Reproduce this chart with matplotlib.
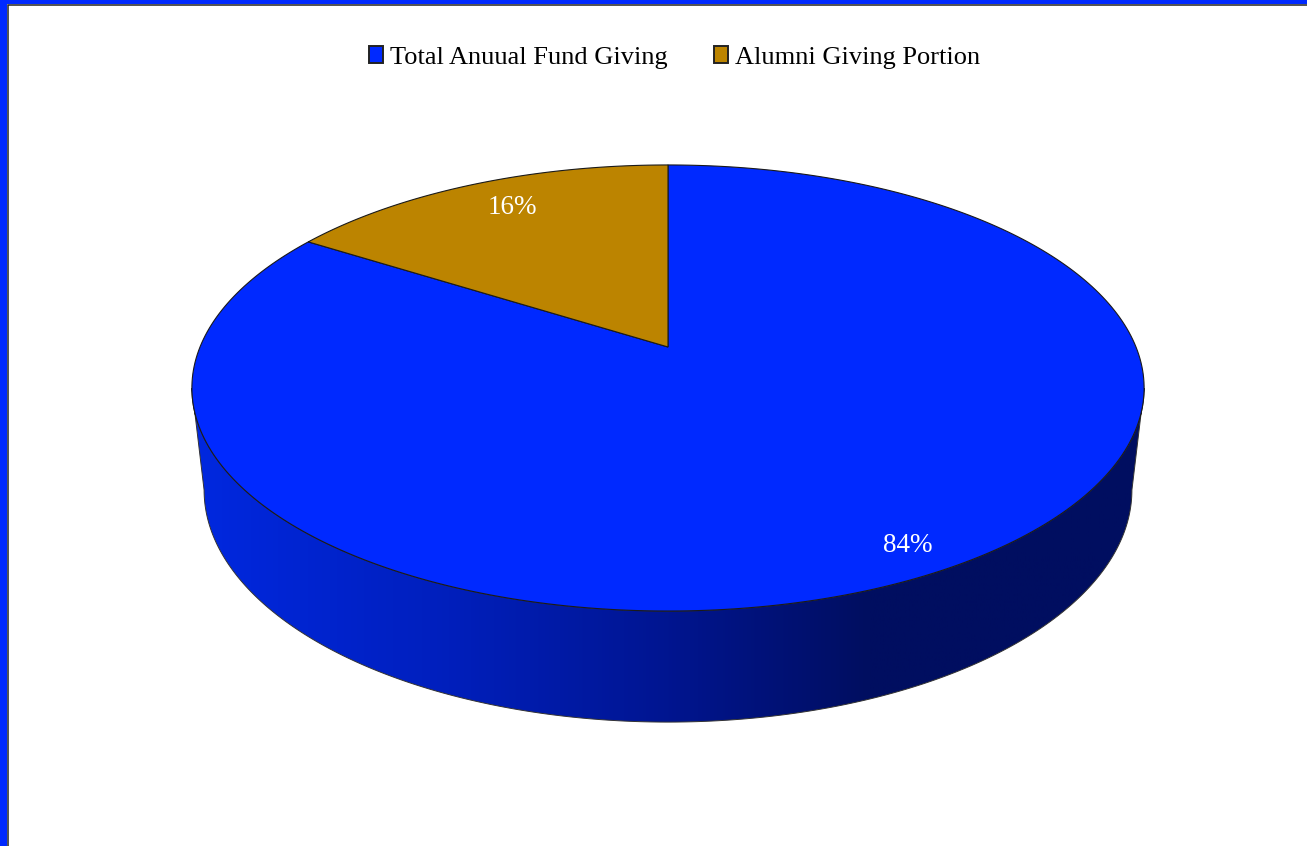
import numpy as np
import matplotlib
matplotlib.use("Agg")
import matplotlib.pyplot as plt
from matplotlib.patches import Patch, Polygon, Rectangle
from matplotlib.colors import LinearSegmentedColormap

labels = ["Total Anuual Fund Giving", "Alumni Giving Portion"]
shares = [84, 16]
pct_labels = ["84%", "16%"]
colors = ["#0029FF", "#BC8400"]

W, H = 1307, 846
CX = 668
K = 0.1838      # perspective of the tilted disc
serif = "Liberation Serif"


def project(t, a, b, y0):
    u, v = np.cos(t), np.sin(t)
    d = 1 + K * v
    return CX + a * u / d, y0 - b * v / d


def rim(t0, t1, a, b, y0, n=300):
    x, y = project(np.radians(np.linspace(t0, t1, n)), a, b, y0)
    return np.column_stack([x, y])


fig = plt.figure(figsize=(W / 100, H / 100), dpi=100, facecolor="white")
ax = fig.add_axes([0, 0, 1, 1])
ax.set_xlim(0, W)
ax.set_ylim(H, 0)
ax.axis("off")

# frame
ax.add_patch(Rectangle((0, 0), 7, H, fc="#0029FF", ec="none"))
ax.add_patch(Rectangle((0, 0), W, 4.5, fc="#0029FF", ec="none"))
ax.plot([8, 8, W], [H, 5.3, 5.3], color="#222222", lw=1.1, solid_joinstyle="miter")

top = (468, 215.5, 347)
low = (456, 224.2, 447.4)

# side wall runs between the widest points of both rims
wide = np.degrees(np.arcsin(K))
top_front = rim(180 + wide, 360 - wide, *top)
low_front = rim(360 - wide, 180 + wide, *low)
side_pts = np.vstack([top_front, low_front])
side = Polygon(side_pts, closed=True, fc="none", ec="none")
ax.add_patch(side)
cmap = LinearSegmentedColormap.from_list(
    "side", [(0, "#0028E0"), (0.27, "#001FBC"), (0.5, "#001590"), (0.71, "#000E60"), (1, "#000E60")])
grad = np.linspace(0, 1, 512).reshape(1, -1)
im = ax.imshow(grad, cmap=cmap, extent=[192, 1145, 740, 380], aspect="auto", zorder=1)
im.set_clip_path(side)
ax.set_xlim(0, W)
ax.set_ylim(H, 0)
ax.add_patch(Polygon(side_pts, closed=True, fc="none", ec="#333333", lw=0.7, zorder=2))

# top of the pie, clockwise from 12 o'clock
start = 90.0
apex = (CX, top[2])
for val, col in zip(shares, colors):
    sweep = val / sum(shares) * 360
    edge = rim(start, start - sweep, *top)
    pts = np.vstack([[apex], edge])
    ax.add_patch(Polygon(pts, closed=True, fc=col, ec="#1a1a1a", lw=0.8, zorder=3))
    start -= sweep

ax.text(908, 546, pct_labels[0], color="white", fontsize=19.5, family=serif,
        ha="center", va="center", zorder=4)
ax.text(512, 208, pct_labels[1], color="white", fontsize=19.5, family=serif,
        ha="center", va="center", zorder=4)

handles = [Patch(fc=c, ec="#222222", lw=1.4) for c in colors]
fig.legend(handles, labels, loc="center", bbox_to_anchor=(674.5 / W, 1 - 57.5 / H), ncol=2,
           frameon=False, prop={"family": serif, "size": 19},
           handlelength=0.55, handleheight=0.6, handletextpad=0.25, columnspacing=1.76)

fig.savefig("out.png", dpi=100)
